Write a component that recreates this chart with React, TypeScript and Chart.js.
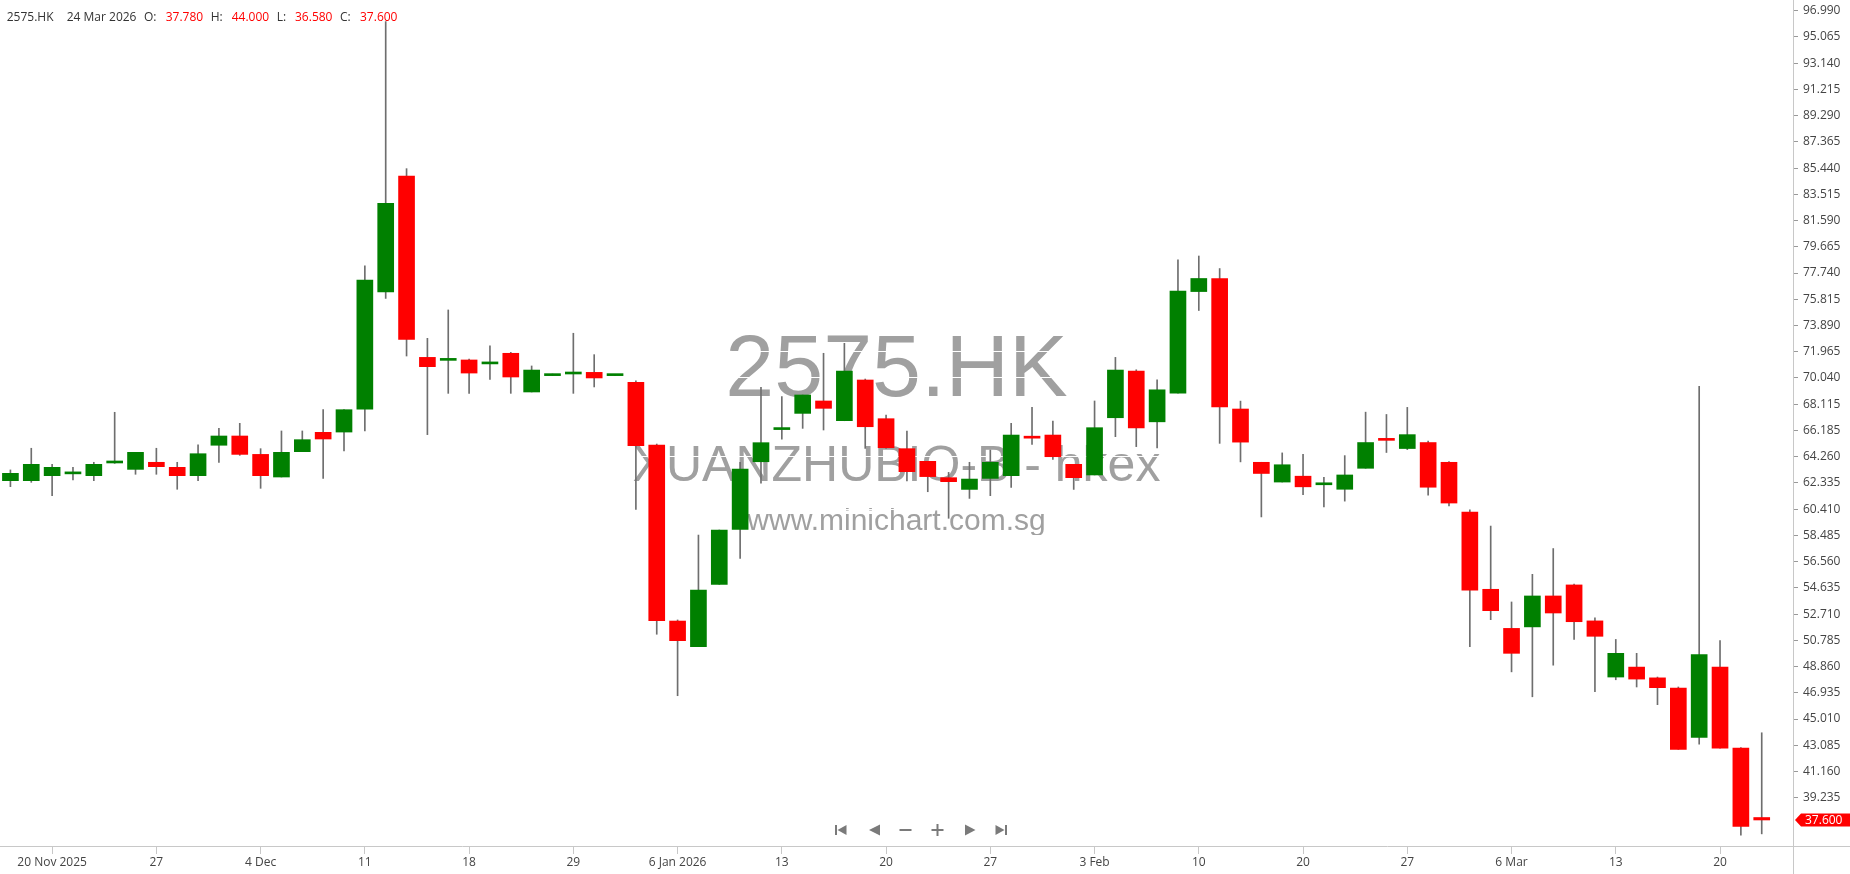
import React, { useEffect, useRef } from "react";
import { Chart, registerables } from "chart.js";

Chart.register(...registerables);

// ---------- data ----------
const dates = [
  "2025-11-18", "2025-11-19", "2025-11-20", "2025-11-21", "2025-11-24", "2025-11-25", "2025-11-26", "2025-11-27", "2025-11-28",
  "2025-12-01", "2025-12-02", "2025-12-03", "2025-12-04", "2025-12-05", "2025-12-08", "2025-12-09", "2025-12-10", "2025-12-11",
  "2025-12-12", "2025-12-15", "2025-12-16", "2025-12-17", "2025-12-18", "2025-12-19", "2025-12-22", "2025-12-23", "2025-12-24",
  "2025-12-29", "2025-12-30", "2025-12-31",
  "2026-01-02", "2026-01-05", "2026-01-06", "2026-01-07", "2026-01-08", "2026-01-09", "2026-01-12", "2026-01-13", "2026-01-14",
  "2026-01-15", "2026-01-16", "2026-01-19", "2026-01-20", "2026-01-21", "2026-01-22", "2026-01-23", "2026-01-26", "2026-01-27",
  "2026-01-28", "2026-01-29", "2026-01-30",
  "2026-02-02", "2026-02-03", "2026-02-04", "2026-02-05", "2026-02-06", "2026-02-09", "2026-02-10", "2026-02-11", "2026-02-12",
  "2026-02-13", "2026-02-16", "2026-02-20", "2026-02-23", "2026-02-24", "2026-02-25", "2026-02-26", "2026-02-27",
  "2026-03-02", "2026-03-03", "2026-03-04", "2026-03-05", "2026-03-06", "2026-03-09", "2026-03-10", "2026-03-11", "2026-03-12",
  "2026-03-13", "2026-03-16", "2026-03-17", "2026-03-18", "2026-03-19", "2026-03-20", "2026-03-23", "2026-03-24",
];

const opens = [
  62.50, 62.50, 62.87, 63.00, 62.87, 63.80, 63.33, 63.85, 63.48, 62.87,
  65.10, 65.78, 64.43, 62.77, 64.63, 66.05, 66.07, 67.74, 76.35, 84.86,
  71.55, 71.33, 71.36, 71.07, 71.85, 69.01, 70.21, 70.33, 70.45, 70.21,
  69.72, 65.12, 52.20, 50.32, 54.89, 58.93, 63.89, 66.25, 67.44, 68.35,
  66.90, 69.89, 67.05, 64.85, 63.92, 62.72, 61.86, 62.67, 62.87, 65.70,
  65.85, 63.70, 62.92, 67.12, 70.55, 66.82, 68.92, 76.38, 77.34, 67.76,
  63.85, 62.40, 62.83, 62.20, 61.87, 63.41, 65.54, 64.86, 65.30, 63.85,
  60.19, 54.53, 51.66, 51.77, 54.04, 54.85, 52.21, 48.09, 48.82, 48.03,
  47.28, 43.65, 48.82, 42.87, 37.78,
];

const highs = [
  63.29, 64.88, 63.70, 63.48, 63.85, 67.52, 64.58, 64.88, 63.85, 65.14,
  66.34, 66.71, 64.85, 66.15, 66.15, 67.71, 67.71, 78.26, 96.19, 85.40,
  72.95, 75.03, 71.43, 72.39, 71.92, 70.92, 70.33, 73.32, 71.75, 70.30,
  69.82, 65.19, 52.28, 58.51, 58.88, 63.85, 69.35, 68.67, 68.79, 71.85,
  72.58, 69.96, 67.32, 66.15, 63.92, 63.11, 63.85, 64.75, 66.71, 67.88,
  66.88, 63.70, 68.35, 71.55, 70.64, 69.90, 78.70, 78.99, 78.07, 68.34,
  63.85, 64.54, 64.43, 62.74, 64.34, 67.53, 67.36, 67.88, 65.41, 63.90,
  60.37, 59.17, 53.60, 55.63, 57.52, 54.91, 52.44, 50.85, 49.83, 48.09,
  47.36, 69.42, 50.76, 42.92, 44.00,
];

const lows = [
  62.06, 62.38, 61.40, 62.55, 62.50, 63.77, 62.97, 62.97, 61.87, 62.50,
  63.85, 64.36, 61.94, 62.77, 64.63, 62.67, 64.68, 66.15, 75.88, 71.65,
  65.88, 68.91, 68.91, 69.94, 68.91, 69.01, 70.21, 68.91, 69.38, 70.21,
  60.40, 51.23, 46.72, 50.32, 54.89, 56.80, 62.31, 65.54, 66.34, 66.22,
  66.90, 64.87, 64.87, 62.48, 61.69, 59.74, 61.20, 61.40, 62.01, 65.17,
  64.07, 61.86, 62.92, 65.73, 65.00, 64.90, 68.92, 74.99, 65.24, 63.88,
  59.84, 62.40, 61.47, 60.57, 61.00, 63.41, 64.57, 64.78, 61.44, 60.65,
  50.32, 52.30, 48.47, 46.64, 48.96, 50.85, 47.02, 47.89, 47.36, 46.06,
  42.78, 43.16, 42.87, 36.48, 36.58,
];

const closes = [
  63.04, 63.70, 63.48, 63.03, 63.70, 63.84, 64.58, 63.53, 62.87, 64.48,
  65.78, 64.43, 62.87, 64.58, 65.51, 65.56, 67.71, 77.23, 82.86, 72.87,
  70.87, 71.38, 70.40, 71.11, 70.11, 70.62, 70.25, 70.45, 70.04, 70.25,
  65.07, 52.23, 50.76, 54.48, 58.88, 63.36, 65.29, 66.29, 68.79, 67.81,
  70.55, 66.46, 64.92, 63.16, 62.80, 62.43, 62.62, 63.85, 65.85, 65.62,
  64.26, 62.72, 66.39, 70.62, 66.38, 69.17, 76.41, 77.34, 67.91, 65.33,
  63.03, 63.67, 62.05, 62.24, 62.92, 65.30, 65.46, 65.88, 62.02, 60.86,
  54.47, 52.96, 49.83, 54.04, 52.79, 52.15, 51.08, 49.83, 47.94, 47.31,
  42.78, 49.74, 42.87, 37.12, 37.60,
];

const xTickDates = [
  "2025-11-20", "2025-11-27", "2025-12-04", "2025-12-11", "2025-12-18", "2025-12-29",
  "2026-01-06", "2026-01-13", "2026-01-20", "2026-01-27", "2026-02-03", "2026-02-10",
  "2026-02-20", "2026-02-27", "2026-03-06", "2026-03-13", "2026-03-20",
];
const xTickLabels = [
  "20 Nov 2025", "27", "4 Dec", "11", "18", "29",
  "6 Jan 2026", "13", "20", "27", "3 Feb", "10",
  "20", "27", "6 Mar", "13", "20",
];

const yTickLabels = [
  "39.235", "41.160", "43.085", "45.010", "46.935", "48.860", "50.785", "52.710",
  "54.635", "56.560", "58.485", "60.410", "62.335", "64.260", "66.185", "68.115",
  "70.040", "71.965", "73.890", "75.815", "77.740", "79.665", "81.590", "83.515",
  "85.440", "87.365", "89.290", "91.215", "93.140", "95.065", "96.990",
];

const yMin = 35.69;
const yMax = 97.778;

const symbol = "2575.HK";
const companyName = "XUANZHUBIO-B - hkex";
const siteName = "www.minichart.com.sg";
const monthNames = ["Jan", "Feb", "Mar", "Apr", "May", "Jun", "Jul", "Aug", "Sep", "Oct", "Nov", "Dec"];

// ---------- colours ----------
const UP = "#008000";
const DOWN = "#ff0000";
const WICK = "#6e6e6e";
const AXIS = "#c8c8c8";
const TEXT = "#444444";
const FONT = "'Open Sans', sans-serif";

function fmtDate(iso: string) {
  const [y, m, d] = iso.split("-").map(Number);
  return `${d} ${monthNames[m - 1]} ${y}`;
}

export default function App() {
  const canvasRef = useRef<HTMLCanvasElement | null>(null);

  useEffect(() => {
    document.body.style.margin = "0";
    const canvas = canvasRef.current;
    if (!canvas) return;
    let chart: Chart | null = null;
    let cancelled = false;

    const labels = [...dates, ""];
    const tickIndex = new Map<number, string>();
    xTickDates.forEach((d, k) => tickIndex.set(dates.indexOf(d), xTickLabels[k]));
    const yTickValues = yTickLabels.map(Number);
    const last = dates.length - 1;

    const bodyColors = opens.map((o, i) => (closes[i] >= o ? UP : DOWN));

    const decorPlugin = {
      id: "decor",
      beforeDraw(c: any) {
        const ctx = c.ctx as CanvasRenderingContext2D;
        const a = c.chartArea;
        ctx.save();
        ctx.fillStyle = "#ffffff";
        ctx.fillRect(0, 0, c.width, c.height);
        const cx = (a.left + a.right) / 2;
        ctx.fillStyle = "rgb(160,160,160)";
        ctx.textAlign = "center";
        ctx.textBaseline = "alphabetic";
        ctx.font = "88px 'Liberation Sans', Arial, sans-serif";
        ctx.fillText(symbol, cx, 396);
        ctx.font = "50px 'Liberation Sans', Arial, sans-serif";
        ctx.fillText(companyName, cx, 481);
        ctx.font = "30px 'Liberation Sans', Arial, sans-serif";
        ctx.fillText(siteName, cx, 530);
        ctx.restore();
      },
      afterDraw(c: any) {
        const ctx = c.ctx as CanvasRenderingContext2D;
        const a = c.chartArea;
        ctx.save();
        // axis lines
        ctx.strokeStyle = AXIS;
        ctx.lineWidth = 1;
        ctx.beginPath();
        ctx.moveTo(Math.round(a.right) + 0.5, 0);
        ctx.lineTo(Math.round(a.right) + 0.5, c.height);
        ctx.moveTo(0, Math.round(a.bottom) + 0.5);
        ctx.lineTo(c.width, Math.round(a.bottom) + 0.5);
        ctx.stroke();

        // last price tag
        const py = Math.round(c.scales.y.getPixelForValue(closes[last]));
        const x0 = a.right + 2;
        ctx.fillStyle = DOWN;
        ctx.beginPath();
        ctx.moveTo(x0, py);
        ctx.lineTo(x0 + 6, py - 6.5);
        ctx.lineTo(c.width, py - 6.5);
        ctx.lineTo(c.width, py + 6.5);
        ctx.lineTo(x0 + 6, py + 6.5);
        ctx.closePath();
        ctx.fill();
        ctx.fillStyle = "#ffffff";
        ctx.font = `12px ${FONT}`;
        ctx.textAlign = "left";
        ctx.textBaseline = "middle";
        ctx.fillText(closes[last].toFixed(3), x0 + 10, py + 0.5);

        // header
        const hy = 18;
        const parts: [string, number, string][] = [
          [symbol, 6.7, "#333333"],
          [fmtDate(dates[last]), 66.7, "#333333"],
          ["O:", 144, "#333333"],
          [opens[last].toFixed(3), 165.7, DOWN],
          ["H:", 210.7, "#333333"],
          [highs[last].toFixed(3), 231.7, DOWN],
          ["L:", 276.7, "#333333"],
          [lows[last].toFixed(3), 295, DOWN],
          ["C:", 340, "#333333"],
          [closes[last].toFixed(3), 360, DOWN],
        ];
        for (const [t, x, col] of parts) {
          ctx.fillStyle = col;
          ctx.fillText(t, x, hy);
        }

        // navigation icons
        ctx.fillStyle = "#7a7a7a";
        const ny = 830;
        // |<
        ctx.fillRect(835, ny - 5, 2, 10);
        ctx.beginPath();
        ctx.moveTo(837.5, ny);
        ctx.lineTo(846.5, ny - 5);
        ctx.lineTo(846.5, ny + 5);
        ctx.closePath();
        ctx.fill();
        // <
        ctx.beginPath();
        ctx.moveTo(869, ny);
        ctx.lineTo(880, ny - 5.5);
        ctx.lineTo(880, ny + 5.5);
        ctx.closePath();
        ctx.fill();
        // -
        ctx.fillRect(899.5, ny - 1, 12, 2);
        // +
        ctx.fillRect(931.5, ny - 1, 12, 2);
        ctx.fillRect(936.5, ny - 6, 2, 12);
        // >
        ctx.beginPath();
        ctx.moveTo(975.5, ny);
        ctx.lineTo(965, ny - 5.5);
        ctx.lineTo(965, ny + 5.5);
        ctx.closePath();
        ctx.fill();
        // >|
        ctx.beginPath();
        ctx.moveTo(1004.5, ny);
        ctx.lineTo(995.5, ny - 5);
        ctx.lineTo(995.5, ny + 5);
        ctx.closePath();
        ctx.fill();
        ctx.fillRect(1005, ny - 5, 2, 10);
        ctx.restore();
      },
    };

    const build = () => {
      if (cancelled) return;
      Chart.defaults.font.family = FONT;
      Chart.defaults.font.size = 12;
      chart = new Chart(canvas, {
        type: "bar",
        data: {
          labels,
          datasets: [
            {
              label: "body",
              data: opens.map((o, i) => [o, closes[i]]) as any,
              backgroundColor: bodyColors,
              borderWidth: 0,
              barThickness: 16,
              minBarLength: 2,
              grouped: false,
              order: 0,
            } as any,
            {
              label: "wick",
              data: lows.map((l, i) => [l, highs[i]]) as any,
              backgroundColor: WICK,
              borderWidth: 0,
              barThickness: 1,
              grouped: false,
              order: 1,
            } as any,
          ],
        },
        options: {
          responsive: false,
          maintainAspectRatio: false,
          animation: false,
          devicePixelRatio: 1,
          events: [],
          layout: { padding: 0 },
          plugins: { legend: { display: false }, tooltip: { enabled: false } },
          scales: {
            x: {
              type: "category",
              offset: true,
              border: { display: false },
              grid: {
                offset: false,
                drawOnChartArea: false,
                drawTicks: true,
                tickLength: 8,
                color: "rgba(0,0,0,0)",
                tickColor: (ctx: any) => (tickIndex.has(ctx.index) ? AXIS : "rgba(0,0,0,0)"),
              },
              ticks: {
                autoSkip: false,
                maxRotation: 0,
                minRotation: 0,
                padding: 1,
                color: TEXT,
                font: { size: 12, family: FONT },
                callback: (_v: any, i: number) => tickIndex.get(i) ?? "",
              },
              afterFit: (s: any) => {
                s.height = 28;
                s.paddingLeft = 0;
                s.paddingRight = 0;
              },
            },
            y: {
              type: "linear",
              position: "right",
              min: yMin,
              max: yMax,
              border: { display: false },
              grid: {
                color: "#ffffff",
                lineWidth: 1,
                drawTicks: true,
                tickLength: 5,
                tickColor: "#9a9a9a",
              },
              ticks: {
                autoSkip: false,
                padding: 5,
                color: TEXT,
                font: { size: 12, family: FONT },
                callback: (v: any) => Number(v).toFixed(3),
              },
              afterBuildTicks: (s: any) => {
                s.ticks = yTickValues.map((v) => ({ value: v }));
              },
              afterFit: (s: any) => {
                s.width = 57;
                s.paddingTop = 0;
                s.paddingBottom = 0;
              },
            },
          },
        } as any,
        plugins: [decorPlugin],
      });
    };

    const fontsApi = (document as any).fonts;
    if (fontsApi && fontsApi.load) {
      Promise.all([
        fontsApi.load(`12px ${FONT}`),
        fontsApi.load("30px 'Liberation Sans'"),
      ])
        .catch(() => null)
        .then(build);
    } else {
      build();
    }

    return () => {
      cancelled = true;
      if (chart) chart.destroy();
    };
  }, []);

  return (
    <div style={{ position: "absolute", left: 0, top: 0, width: 1850, height: 874, background: "#ffffff" }}>
      <canvas ref={canvasRef} width={1850} height={874} style={{ display: "block", width: 1850, height: 874 }} />
    </div>
  );
}
